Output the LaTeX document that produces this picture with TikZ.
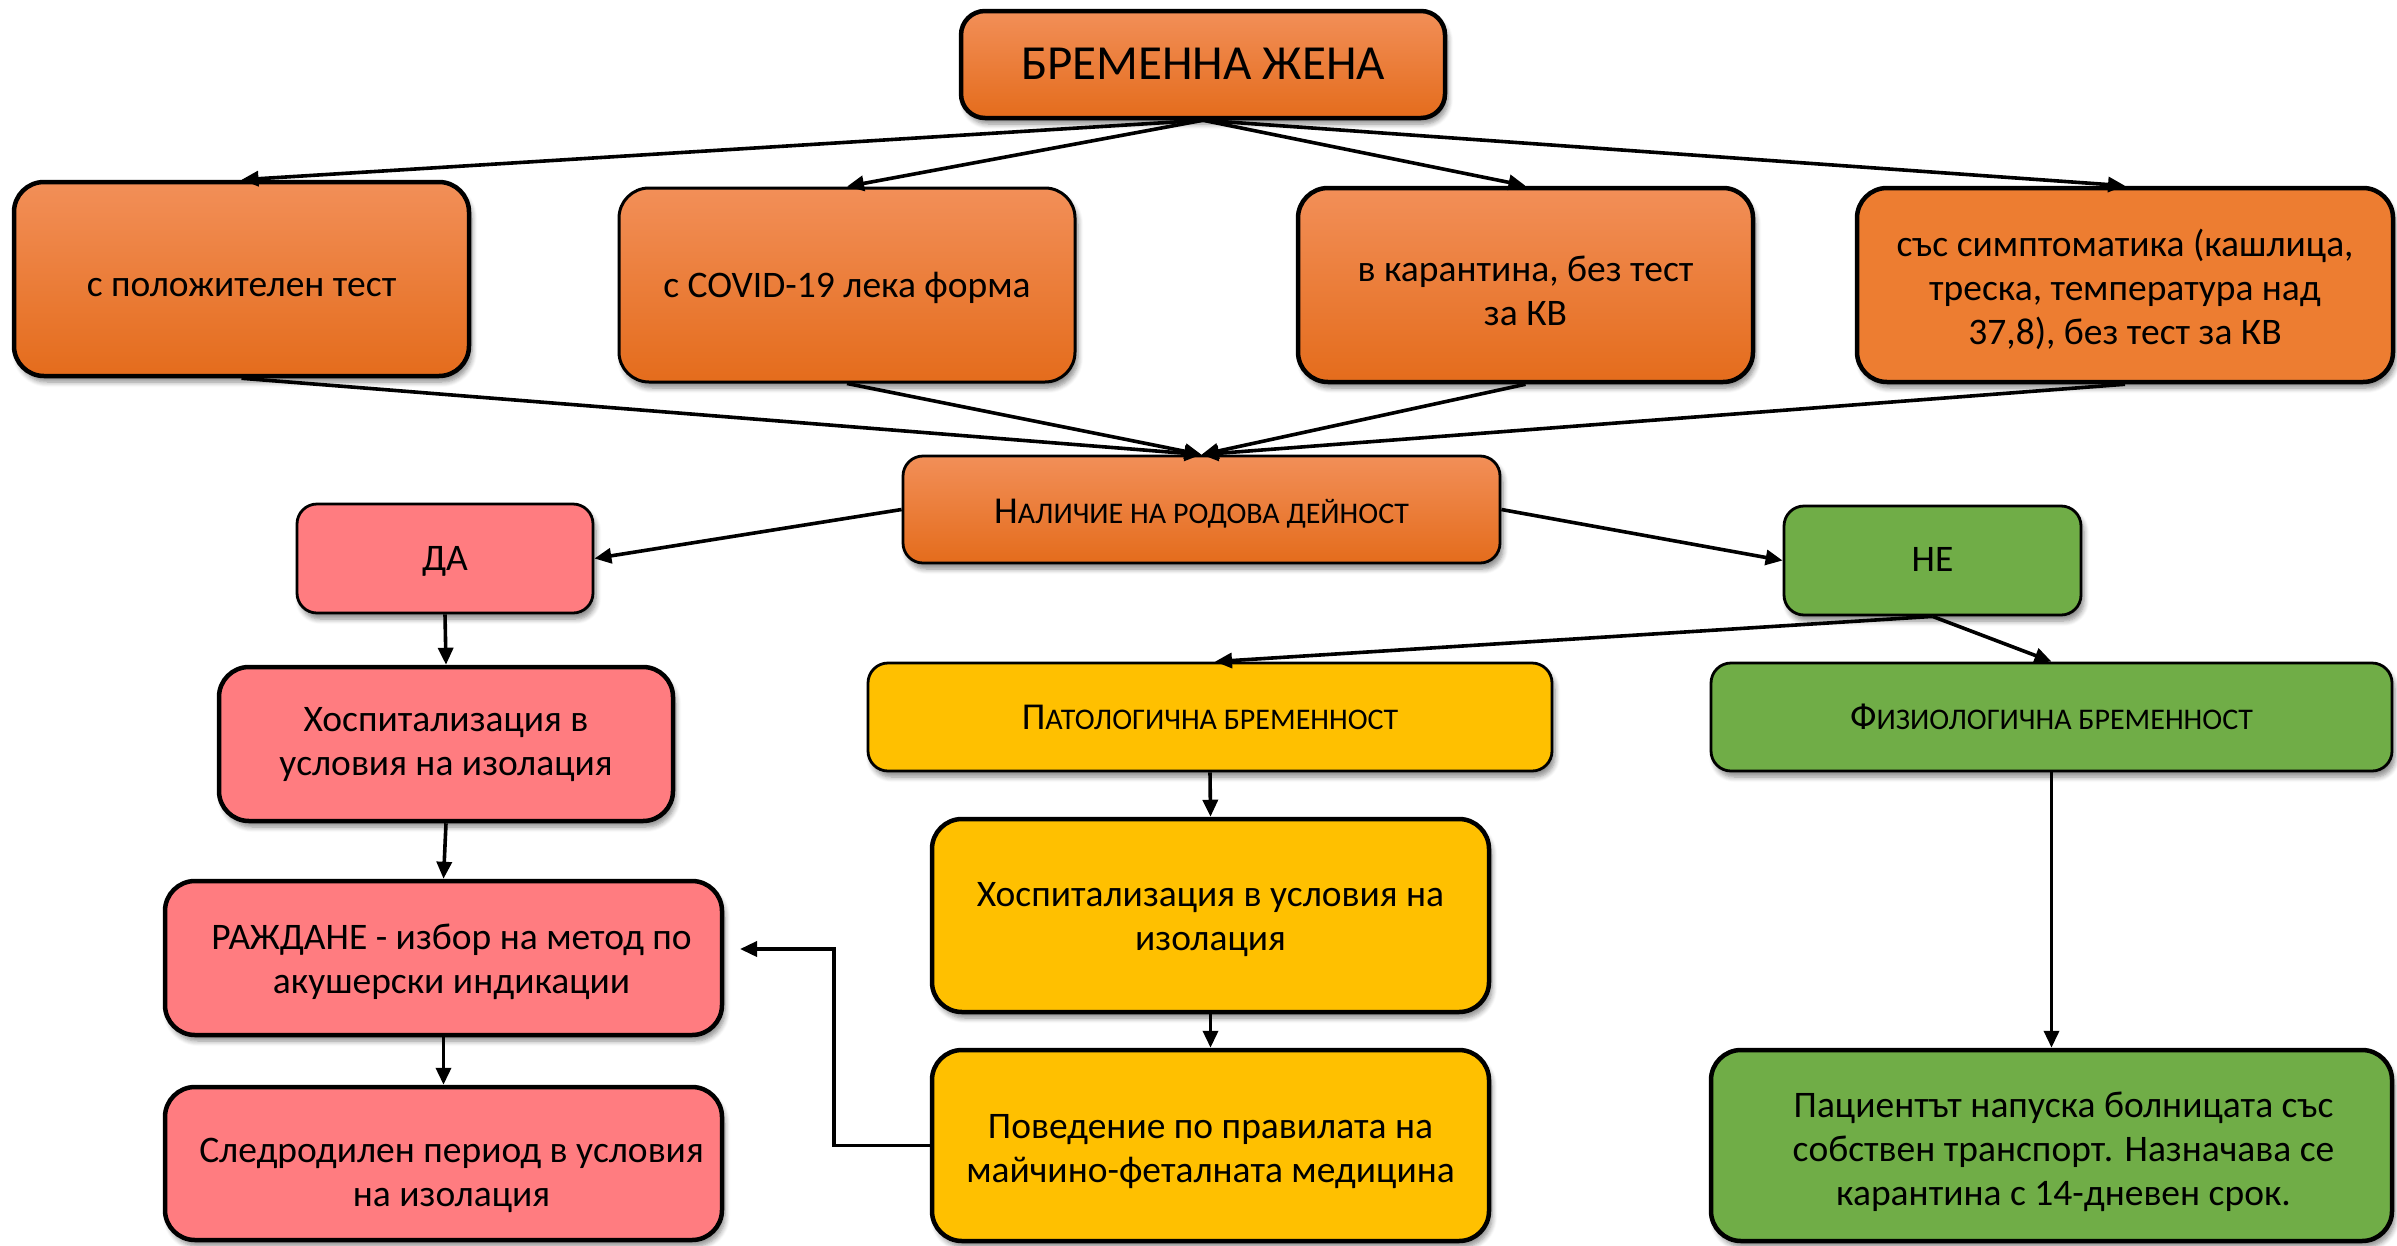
\documentclass[tikz,border=0pt]{standalone}
\usepackage{fontspec}
\setmainfont{Carlito}
\usetikzlibrary{arrows.meta,shadows.blur,calc}
\definecolor{orTop}{RGB}{242,143,88}
\definecolor{orBot}{RGB}{228,108,28}
\definecolor{orFlat}{RGB}{237,125,49}
\definecolor{redB}{RGB}{255,124,128}
\definecolor{yelB}{RGB}{255,192,0}
\definecolor{grnB}{RGB}{112,173,71}
\newcommand\bodyf{\fontsize{37.5}{44}\selectfont}
\newcommand\fakesc[3]{{\fontsize{#1}{44}\selectfont #2}{\fontsize{\numexpr #1*78/100\relax}{44}\selectfont #3}}
\tikzset{
  box/.style={draw=black, rounded corners=30pt, line width=4.5pt, inner sep=0pt,
    blur shadow={shadow xshift=3pt, shadow yshift=-6pt, shadow blur steps=6, shadow blur radius=5pt, shadow opacity=45}},
  thinbox/.style={box, line width=2.8pt, rounded corners=20pt},
  txt/.style={align=center, inner sep=0pt, text=black, font=\bodyf},
  orgrad/.style={top color=orTop, bottom color=orBot},
  redbox/.style={fill=redB},
  yelbox/.style={fill=yelB},
  grnbox/.style={fill=grnB},
  conn/.style={line width=3.6pt, -{Triangle[length=17pt,width=15pt]}},
}
\begin{document}
\begin{tikzpicture}[x=1pt,y=-1pt]
\useasboundingbox (0,0) rectangle (2397,1245);
% row 1
\node[box, orgrad, rounded corners=24pt, minimum width=484pt, minimum height=107pt] (top) at (1203,64.5) {};
\node[txt, font=\fontsize{49}{60}\selectfont] (topt) at ($(top.center)+(0,-1)$) {БРЕМЕННА ЖЕНА};
% row 2
\node[box, orgrad, minimum width=455pt, minimum height=194pt] (pos) at (241.5,279) {};
\node[txt] (post) at ($(pos.center)+(0,9)$) {с положителен тест};
\node[box, orgrad, line width=3pt, minimum width=456pt, minimum height=194pt] (cov) at (847,285) {};
\node[txt] (covt) at ($(cov.center)+(0,3)$) {с COVID-19 лека форма};
\node[box, orgrad, minimum width=455pt, minimum height=194pt] (kar) at (1525.5,285) {};
\node[txt] (kart) at ($(kar.center)+(0,6)$) {в карантина, без тест\\за КВ};
\node[box, fill=orFlat, minimum width=536pt, minimum height=194pt] (sim) at (2125,285) {};
\node[txt] (simt) at ($(sim.center)+(0,4)$) {със симптоматика (кашлица,\\треска, температура над\\37,8), без тест за КВ};
% row 3
\node[thinbox, orgrad, minimum width=597pt, minimum height=107pt] (nal) at (1201.5,509.5) {};
\node[txt] (nalt) at ($(nal.center)+(0,4)$) {\fakesc{38}{Н}{АЛИЧИЕ НА РОДОВА ДЕЙНОСТ}};
\node[thinbox, redbox, minimum width=296pt, minimum height=109pt] (da) at (445,558.5) {};
\node[txt] (dat) at ($(da.center)+(0,3)$) {ДА};
\node[thinbox, grnbox, minimum width=297pt, minimum height=109pt] (ne) at (1932.5,560.5) {};
\node[txt] (net) at ($(ne.center)+(0,-1)$) {НЕ};
% left column
\node[box, redbox, minimum width=454pt, minimum height=154pt] (hos1) at (446,744) {};
\node[txt] (hos1t) at ($(hos1.center)+(0,1)$) {Хоспитализация в\\условия на изолация};
\node[box, redbox, minimum width=557pt, minimum height=154pt] (raz) at (443.5,958) {};
\node[txt] (razt) at ($(raz.center)+(8,4)$) {РАЖДАНЕ - избор на метод по\\акушерски индикации};
\node[box, redbox, minimum width=557pt, minimum height=153pt] (sle) at (443.5,1163.5) {};
\node[txt] (slet) at ($(sle.center)+(8,12)$) {Следродилен период в условия\\на изолация};
% middle column
\node[thinbox, yelbox, minimum width=684pt, minimum height=108pt] (pat) at (1210,717) {};
\node[txt] (patt) at ($(pat.center)+(0,0)$) {\fakesc{38}{П}{АТОЛОГИЧНА БРЕМЕННОСТ}};
\node[box, yelbox, minimum width=557pt, minimum height=193pt] (hos2) at (1210.5,915.5) {};
\node[txt] (hos2t) at ($(hos2.center)+(0,4)$) {Хоспитализация в условия на\\изолация};
\node[box, yelbox, minimum width=557pt, minimum height=191pt] (pov) at (1210.5,1145.5) {};
\node[txt] (povt) at ($(pov.center)+(0,6)$) {Поведение по правилата на\\майчино-феталната медицина};
% right column
\node[thinbox, grnbox, minimum width=681pt, minimum height=108pt] (fiz) at (2051.5,717) {};
\node[txt] (fizt) at ($(fiz.center)+(0,0)$) {\fakesc{38}{Ф}{ИЗИОЛОГИЧНА БРЕМЕННОСТ}};
\node[box, grnbox, minimum width=681pt, minimum height=191pt] (pac) at (2051.5,1145.5) {};
\node[txt] (pact) at ($(pac.center)+(12,6)$) {Пациентът напуска болницата със\\собствен транспорт. Назначава се\\карантина с 14-дневен срок.};
% connectors
\draw[conn] (top.south) -- (pos.north);
\draw[conn] (top.south) -- (cov.north);
\draw[conn] (top.south) -- (kar.north);
\draw[conn] (top.south) -- (sim.north);
\draw[conn] (pos.south) -- (nal.north);
\draw[conn] (cov.south) -- (nal.north);
\draw[conn] (kar.south) -- (nal.north);
\draw[conn] (sim.south) -- (nal.north);
\draw[conn] (nal.west) -- (da.east);
\draw[conn] (nal.east) -- (ne.west);
\draw[conn] (da.south) -- (hos1.north);
\draw[conn] (hos1.south) -- (raz.north);
\draw[conn] (raz.south) -- (sle.north);
\draw[conn] (ne.south) -- ($(pat.north)+(5,0)$);
\draw[conn] (ne.south) -- (fiz.north);
\draw[conn] (pat.south) -- (hos2.north);
\draw[conn] (hos2.south) -- (pov.north);
\draw[conn] (fiz.south) -- (pac.north);
\coordinate (rtip) at (740,949);
\draw[conn] (pov.west) -- ++(-96,0) |- (rtip);
\end{tikzpicture}
\end{document}
